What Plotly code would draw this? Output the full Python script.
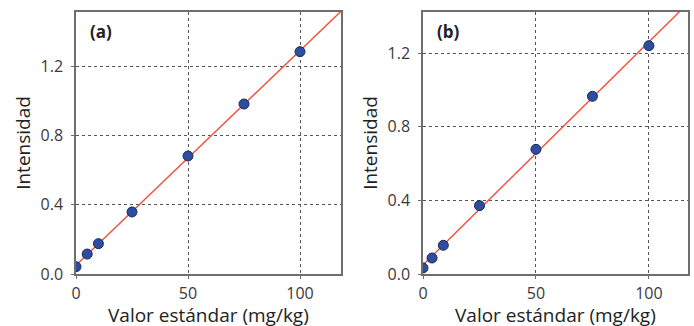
import numpy as np
import plotly.graph_objects as go

# Data
x_a = [0, 5, 10, 25, 50, 75, 100]
y_a = [0.042, 0.115, 0.175, 0.358, 0.681, 0.981, 1.283]
x_b = [0, 4, 9, 25, 50, 75, 100]
y_b = [0.033, 0.087, 0.156, 0.371, 0.677, 0.965, 1.240]
panel_labels = ["(a)", "(b)"]
x_ticks = [0, 50, 100]
y_ticks = [0.0, 0.4, 0.8, 1.2]
x_title = "Valor estándar (mg/kg)"
y_title = "Intensidad"

fig = go.Figure()

panels = [
    (x_a, y_a, "x", "y", [0, 118.3], [0, 1.512]),
    (x_b, y_b, "x2", "y2", [0, 117.3], [0, 1.423]),
]

for xs, ys, xa, ya, xr, yr in panels:
    slope, icpt = np.polyfit(xs, ys, 1)
    lx = np.array([xr[0], xr[1] * 1.05])
    fig.add_trace(go.Scatter(
        x=lx, y=slope * lx + icpt, mode="lines", xaxis=xa, yaxis=ya,
        line=dict(color="#f0503c", width=1.4), showlegend=False,
        hoverinfo="skip"))
    fig.add_trace(go.Scatter(
        x=xs, y=ys, mode="markers", xaxis=xa, yaxis=ya,
        marker=dict(size=10, color="#2d4da0", line=dict(color="#1a2a5a", width=1)),
        showlegend=False, cliponaxis=True))

FONT = "Open Sans"
axis_common = dict(
    showline=True, mirror=True, linecolor="#6e6e6e", linewidth=1.5,
    showgrid=True, gridcolor="#555555", griddash="dot", gridwidth=1,
    zeroline=False, ticks="outside", ticklen=3, tickcolor="#6e6e6e",
    tickfont=dict(family=FONT, size=16, color="#3a3a3a"),
    title_font=dict(family=FONT, size=19, color="#222222"),
    automargin=False,
)

L, R = 76, 6
W = 694 - L - R

def dom(a, b):
    return [(a - L) / W, (b - L) / W]

fig.update_layout(
    width=694, height=326,
    margin=dict(l=L, r=R, t=12, b=52, autoexpand=False),
    paper_bgcolor="white", plot_bgcolor="white",
    xaxis=dict(domain=dom(76, 341), range=panels[0][4], tickvals=x_ticks,
               ticklabelstandoff=1, anchor="y", **axis_common),
    yaxis=dict(domain=[0, 1], range=panels[0][5], tickvals=y_ticks, tickformat=".1f",
               ticklabelstandoff=5, title=dict(text=y_title, standoff=5),
               anchor="x", **axis_common),
    xaxis2=dict(domain=dom(423, 688), range=panels[1][4], tickvals=x_ticks,
                ticklabelstandoff=1, anchor="y2", **axis_common),
    yaxis2=dict(domain=[0, 1], range=panels[1][5], tickvals=y_ticks, tickformat=".1f",
                ticklabelstandoff=5, title=dict(text=y_title, standoff=5),
                anchor="x2", **axis_common),
)

for i, lab in enumerate(panel_labels):
    xd = "x domain" if i == 0 else "x2 domain"
    yd = "y domain" if i == 0 else "y2 domain"
    fig.add_annotation(
        text="<b>" + lab + "</b>", xref=xd, yref=yd, x=0.045, y=0.924,
        xanchor="left", yanchor="middle", showarrow=False,
        font=dict(family=FONT, size=17, color="#222222"))
    # x-axis title
    fig.add_annotation(
        text=x_title, xref=xd, yref=yd, x=0.5, y=-0.158,
        xanchor="center", yanchor="middle", showarrow=False,
        font=dict(family=FONT, size=19, color="#222222"))

fig.write_html("out.html", config={"displayModeBar": False},
               post_script="document.body.style.margin='0';")
